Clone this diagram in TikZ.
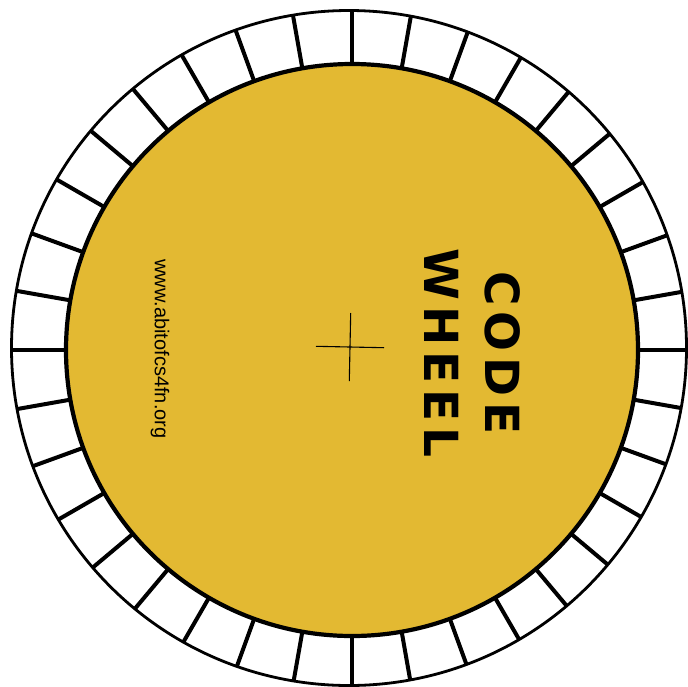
\documentclass[tikz,border=0pt]{standalone}
\usepackage{fontspec}
\setmainfont{Liberation Sans}
\newfontfamily\wheelfont{DejaVu Sans}[LetterSpace=13]
\definecolor{wheelyellow}{RGB}{227,185,50}
\tikzset{
  spoke/.style={line width=4pt},
  outerring/.style={line width=2.8pt},
  innerdisc/.style={fill=wheelyellow, line width=4.2pt},
  crossline/.style={line width=1.1pt},
  titletext/.style={rotate=-90, inner sep=0pt, font=\wheelfont\bfseries\fontsize{47}{50}\selectfont},
  urltext/.style={rotate=-90, inner sep=0pt, font=\fontsize{20}{24}\selectfont}
}
\begin{document}
\begin{tikzpicture}[x=1pt,y=-1pt]
\useasboundingbox (0,0) rectangle (688,686);
\coordinate (oc) at (349,348);
\coordinate (ic) at (352,350);
\begin{scope}
  \clip (oc) circle[radius=337.5];
  \foreach \a in {0,10,...,350} \draw[spoke] (ic) -- ++(\a:360);
\end{scope}
\draw[outerring] (oc) circle[radius=337.5];
\filldraw[innerdisc] (ic) circle[radius=286];
\draw[crossline] (316,346.3) -- (384,347.7);
\draw[crossline] (350.7,313) -- (349.3,381);
\node[titletext] (code) at (503,353) {CODE};
\node[titletext] (wheel) at (442,353) {WHEEL};
\node[urltext] (url) at (160,349) {www.abitofcs4fn.org};
\end{tikzpicture}
\end{document}
